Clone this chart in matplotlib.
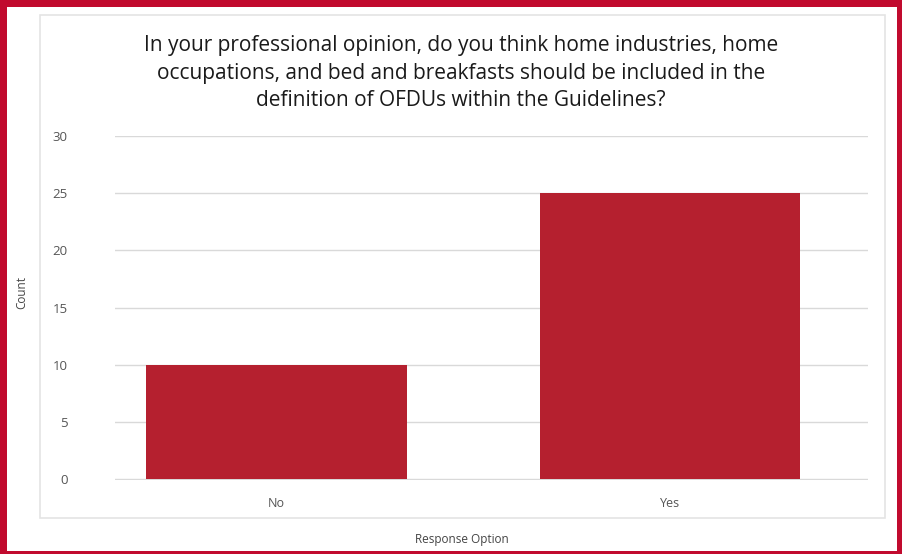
import matplotlib.pyplot as plt
from matplotlib.patches import Rectangle

plt.rcParams['font.family'] = ['Open Sans', 'DejaVu Sans']

categories = ["No", "Yes"]
counts = [10, 25]
yticks = [0, 5, 10, 15, 20, 25, 30]
title = ("In your professional opinion, do you think home industries, home\n"
         "occupations, and bed and breakfasts should be included in the\n"
         "definition of OFDUs within the Guidelines?")

W, H = 902, 554
fig = plt.figure(figsize=(W / 100, H / 100), dpi=100, facecolor="#C10A2E")

# white card inside the red border
fig.patches.append(Rectangle((7 / W, 3 / H), (897 - 7) / W, (547 - 3) / H,
                             transform=fig.transFigure, facecolor="white",
                             edgecolor="none", zorder=-2))
# faint chart frame
fig.patches.append(Rectangle((40 / W, 1 - 518 / H), (885 - 40) / W, (518 - 15) / H,
                             transform=fig.transFigure, facecolor="none",
                             edgecolor="#e4e4e4", linewidth=1.2, zorder=-1))

ax = fig.add_axes([115 / W, 1 - 480 / H, (868 - 115) / W, (480 - 136) / H])
ax.set_facecolor("none")
ax.set_zorder(2)

x = [0, 1]
ax.bar(x, counts, width=0.663, color="#B5202F", zorder=3)

ax.set_xlim(-0.41, 1.503)
ax.set_ylim(-0.08, 30)
ax.set_yticks(yticks)
ax.set_xticks(x)
ax.set_xticklabels(categories)
ax.grid(axis="y", color="#d9d9d9", linewidth=1, zorder=0)
ax.set_axisbelow(True)
for s in ax.spines.values():
    s.set_visible(False)
ax.tick_params(axis="y", length=0, pad=34, labelsize=9.5, labelcolor="#555555")
ax.tick_params(axis="x", length=0, pad=12, labelsize=9, labelcolor="#555555")

fig.text(461 / W, 1 - 73 / H, title, ha="center", va="center", fontsize=15,
         color="#1a1a1a", linespacing=1.42)
fig.text(22 / W, 1 - 292 / H, "Count", rotation=90, ha="center", va="center",
         fontsize=8.5, color="#444444")
fig.text(462 / W, 1 - 540 / H, "Response Option", ha="center", va="center",
         fontsize=8.5, color="#444444")

fig.savefig("out.png", dpi=100, facecolor=fig.get_facecolor())
